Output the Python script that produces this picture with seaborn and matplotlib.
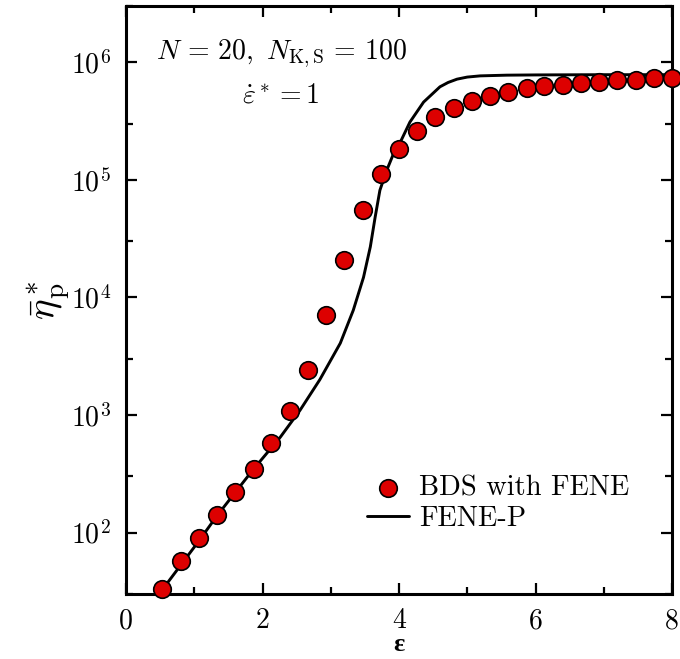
import numpy as np
import pandas as pd
import matplotlib
matplotlib.use("Agg")
import matplotlib.pyplot as plt
import matplotlib.ticker as mticker
import seaborn as sns

# --- data ---
bds_x = [0.53, 0.80, 1.07, 1.33, 1.60, 1.87, 2.13, 2.40, 2.67, 2.93, 3.20, 3.47,
         3.73, 4.00, 4.27, 4.53, 4.80, 5.07, 5.33, 5.60, 5.87, 6.13, 6.40, 6.67,
         6.93, 7.20, 7.47, 7.73, 8.00]
bds_y = [33.4, 57.4, 90, 140, 219, 350, 582, 1075, 2400, 7040, 20950, 55000,
         111000, 181600, 260000, 342000, 408000, 465000, 516000, 562000, 597000,
         621000, 640000, 666000, 684000, 702000, 711000, 726000, 730000]

fenep_x = [0.40, 0.54, 1.07, 1.33, 1.60, 1.87, 2.13, 2.26, 2.55, 2.84, 3.14, 3.33,
           3.48, 3.58, 3.65, 3.72, 3.82, 3.94, 4.02, 4.16, 4.36, 4.60, 4.72, 4.85,
           5.00, 5.19, 5.58, 6.00, 7.00, 8.00]
fenep_y = [26.3, 33.1, 85.1, 138, 219, 347, 525, 646, 1096, 1995, 4074, 7762,
           14791, 26915, 47863, 81283, 120226, 177828, 208930, 309030, 457088,
           616595, 671400, 716143, 746000, 763836, 774462, 778037, 781628, 781628]

sns.set_style("ticks")
plt.rcParams["font.family"] = ["cmr10", "DejaVu Serif"]
plt.rcParams["mathtext.fontset"] = "cm"
plt.rcParams["axes.formatter.use_mathtext"] = True
for k in ["text.color", "axes.labelcolor", "xtick.color", "ytick.color",
          "axes.edgecolor"]:
    plt.rcParams[k] = "black"

fig = plt.figure(figsize=(6.8, 6.59), dpi=100)
ax = fig.add_axes([126/680, (659-594)/659, (672-126)/680, (594-6)/659])

bds = pd.DataFrame({"x": bds_x, "y": bds_y})
fen = pd.DataFrame({"x": fenep_x, "y": fenep_y})

sns.lineplot(data=fen, x="x", y="y", ax=ax, color="black", lw=2.1,
             label="FENE-P", zorder=2)
sns.scatterplot(data=bds, x="x", y="y", ax=ax, color="#dd0000", s=160,
                edgecolor="black", linewidth=1.2, label="BDS with FENE", zorder=3,
                clip_on=False)

ax.set_yscale("log")
ax.set_xlim(0, 8)
ax.set_ylim(30, 3e6)
ax.set_xticks([0, 2, 4, 6, 8])
ax.set_xticks([1, 3, 5, 7], minor=True)
ax.xaxis.set_major_formatter(mticker.FormatStrFormatter("%d"))
ax.yaxis.set_major_locator(mticker.LogLocator(base=10, numticks=20))
ax.yaxis.set_minor_locator(mticker.LogLocator(base=10, subs=[3.0], numticks=20))
ax.yaxis.set_major_formatter(mticker.LogFormatterMathtext())
ax.yaxis.set_minor_formatter(mticker.NullFormatter())

for s in ax.spines.values():
    s.set_linewidth(2.2)
ax.tick_params(which="both", direction="in", top=True, right=True,
               width=1.6, labelsize=20)
ax.tick_params(which="major", length=8)
ax.tick_params(axis="x", which="major", pad=10)
ax.tick_params(axis="y", which="major", pad=11)
ax.tick_params(which="minor", length=5)

ax.set_xlabel("ε", fontsize=19, fontweight="bold",
              family=["Liberation Serif", "DejaVu Serif"], labelpad=-1)
ax.set_ylabel(r"$\bar{\eta}^*_{\mathrm{p}}$", fontsize=28, labelpad=0)

ax.text(0.284, 0.918, r"$N\,=\,20,\ N_{\mathrm{K,S}}\,=\,100$",
        transform=ax.transAxes, ha="center", va="center", fontsize=20)
ax.text(0.284, 0.848, r"$\dot{\varepsilon}^* = 1$", transform=ax.transAxes,
        ha="center", va="center", fontsize=20)

h, l = ax.get_legend_handles_labels()
order = [l.index("BDS with FENE"), l.index("FENE-P")]
ax.legend([h[i] for i in order], [l[i] for i in order], frameon=False,
          loc="lower left", bbox_to_anchor=(0.441, 0.105), fontsize=20.5,
          handlelength=1.5, handletextpad=0.35, labelspacing=0.15,
          borderaxespad=0, borderpad=0)

fig.savefig("out.png", dpi=100)
